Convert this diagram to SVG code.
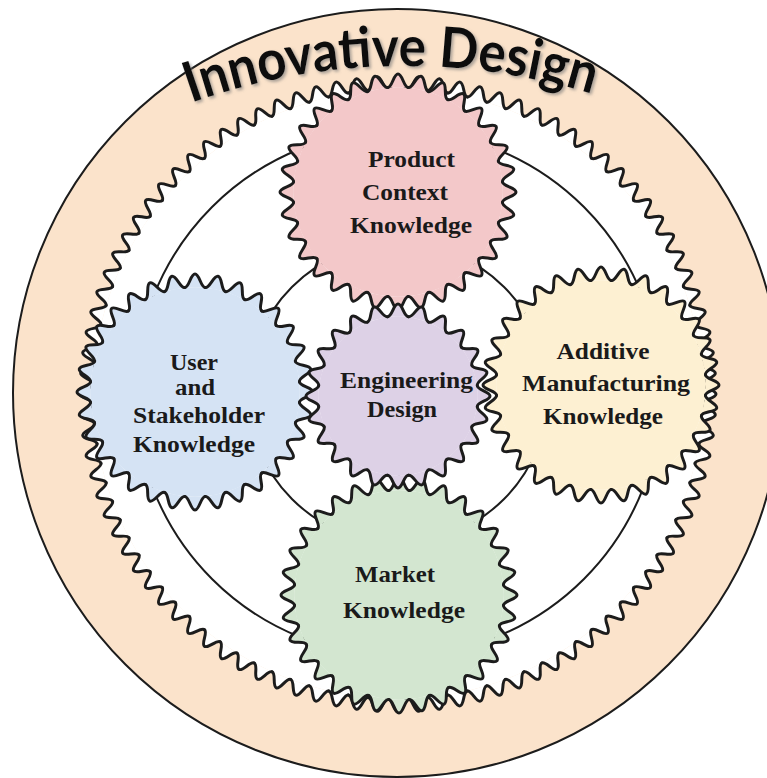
<svg xmlns="http://www.w3.org/2000/svg" xmlns:xlink="http://www.w3.org/1999/xlink" width="767" height="778" viewBox="0 0 767 778">
<style>
.gs{fill:none;stroke:#1c1c1c;stroke-width:3;stroke-linejoin:round;stroke-linecap:round}
.ring{fill:none;stroke:#1c1c1c;stroke-width:2}
.lbl{font-family:"Liberation Serif","Times New Roman",serif;font-weight:bold;font-size:24px;fill:#1a1a1a;text-anchor:middle}
</style>
<defs>
<filter id="sh" x="-10%" y="-40%" width="120%" height="180%">
<feDropShadow dx="2" dy="2" stdDeviation="1.5" flood-color="#777" flood-opacity="0.6"/>
</filter>
<path id="titleArc" d="M85,151.74 A640,640 0 0 1 725,151.74"/>
<!-- big gear tooth, N=96 -->
<path id="bt" d="M-9.979,-304.837 C-5.488,-304.837 -4.491,-318 0,-318 C4.491,-318 5.488,-304.837 9.979,-304.837"/>
<g id="bt2"><use href="#bt"/><use href="#bt" transform="rotate(3.75)"/></g>
<g id="bt4"><use href="#bt2"/><use href="#bt2" transform="rotate(7.5)"/></g>
<g id="bt8"><use href="#bt4"/><use href="#bt4" transform="rotate(15)"/></g>
<g id="bt16"><use href="#bt8"/><use href="#bt8" transform="rotate(30)"/></g>
<g id="bt32"><use href="#bt16"/><use href="#bt16" transform="rotate(60)"/></g>
<g id="bt96"><use href="#bt32"/><use href="#bt32" transform="rotate(120)"/><use href="#bt32" transform="rotate(240)"/></g>
<!-- small gear tooth, N=32 -->
<path id="st" d="M-10.292,-104.494 C-5.661,-104.494 -4.631,-118 0,-118 C4.631,-118 5.661,-104.494 10.292,-104.494"/>
<g id="st2"><use href="#st"/><use href="#st" transform="rotate(11.25)"/></g>
<g id="st4"><use href="#st2"/><use href="#st2" transform="rotate(22.5)"/></g>
<g id="st8"><use href="#st4"/><use href="#st4" transform="rotate(45)"/></g>
<g id="st16"><use href="#st8"/><use href="#st8" transform="rotate(90)"/></g>
<g id="st32"><use href="#st16"/><use href="#st16" transform="rotate(180)"/></g>
<!-- centre gear tooth, N=24 -->
<path id="et" d="M-10.442,-79.316 C-5.743,-79.316 -4.699,-92 0,-92 C4.699,-92 5.743,-79.316 10.442,-79.316"/>
<g id="et2"><use href="#et"/><use href="#et" transform="rotate(15)"/></g>
<g id="et4"><use href="#et2"/><use href="#et2" transform="rotate(30)"/></g>
<g id="et8"><use href="#et4"/><use href="#et4" transform="rotate(60)"/></g>
<g id="et24"><use href="#et8"/><use href="#et8" transform="rotate(120)"/><use href="#et8" transform="rotate(240)"/></g>
</defs>

<g id="outer-ring">
<circle cx="397" cy="393" r="384" fill="#FBE3CB" stroke="#1c1c1c" stroke-width="2"/>
</g>

<g id="big-gear" transform="translate(398,394)">
<circle r="305" fill="#ffffff"/>
<use href="#bt96" fill="#ffffff" stroke="none"/>
<use href="#bt96" class="gs"/>
</g>

<g id="connectors">
<circle class="ring" cx="398" cy="393" r="263"/>
<circle class="ring" cx="398" cy="393" r="150"/>
</g>

<g id="gear-product" transform="translate(398,192)">
<circle r="104.8" fill="#F3C8C9"/>
<use href="#st32" fill="#F3C8C9" stroke="none"/>
<use href="#st32" class="gs"/>
</g>
<g id="gear-user" transform="translate(195,392)">
<circle r="104.8" fill="#D5E3F4"/>
<use href="#st32" fill="#D5E3F4" stroke="none"/>
<use href="#st32" class="gs"/>
</g>
<g id="gear-additive" transform="translate(601,385)">
<circle r="104.8" fill="#FDF0D2"/>
<use href="#st32" fill="#FDF0D2" stroke="none"/>
<use href="#st32" class="gs"/>
</g>
<g id="gear-market" transform="translate(399,595)">
<circle r="104.8" fill="#D3E6D0"/>
<use href="#st32" fill="#D3E6D0" stroke="none"/>
<use href="#st32" class="gs"/>
</g>
<g id="gear-engineering" transform="translate(398,396)">
<circle r="79.6" fill="#DDD1E6"/>
<use href="#et24" fill="#DDD1E6" stroke="none"/>
<use href="#et24" class="gs"/>
</g>

<g id="labels">
<text class="lbl" x="411.5" y="167" textLength="87" lengthAdjust="spacingAndGlyphs">Product</text>
<text class="lbl" x="405" y="200" textLength="86" lengthAdjust="spacingAndGlyphs">Context</text>
<text class="lbl" x="411" y="233" textLength="122" lengthAdjust="spacingAndGlyphs">Knowledge</text>

<text class="lbl" x="194" y="370" textLength="48" lengthAdjust="spacingAndGlyphs">User</text>
<text class="lbl" x="195" y="395" textLength="40" lengthAdjust="spacingAndGlyphs">and</text>
<text class="lbl" x="199" y="423" textLength="132" lengthAdjust="spacingAndGlyphs">Stakeholder</text>
<text class="lbl" x="194" y="452" textLength="122" lengthAdjust="spacingAndGlyphs">Knowledge</text>

<text class="lbl" x="603" y="359" textLength="93" lengthAdjust="spacingAndGlyphs">Additive</text>
<text class="lbl" x="606" y="391" textLength="168" lengthAdjust="spacingAndGlyphs">Manufacturing</text>
<text class="lbl" x="603" y="424" textLength="120" lengthAdjust="spacingAndGlyphs">Knowledge</text>

<text class="lbl" x="406.5" y="388" textLength="133" lengthAdjust="spacingAndGlyphs">Engineering</text>
<text class="lbl" x="402" y="417" textLength="70" lengthAdjust="spacingAndGlyphs">Design</text>

<text class="lbl" x="395" y="582" textLength="80" lengthAdjust="spacingAndGlyphs">Market</text>
<text class="lbl" x="404" y="618" textLength="122" lengthAdjust="spacingAndGlyphs">Knowledge</text>
</g>

<g id="title">
<text font-family="Lato, 'Open Sans', 'Liberation Sans', sans-serif" font-weight="700" font-size="56" fill="#111" filter="url(#sh)"><textPath href="#titleArc" startOffset="321" text-anchor="middle" textLength="408" lengthAdjust="spacingAndGlyphs">Innovative Design</textPath></text>
</g>
</svg>
